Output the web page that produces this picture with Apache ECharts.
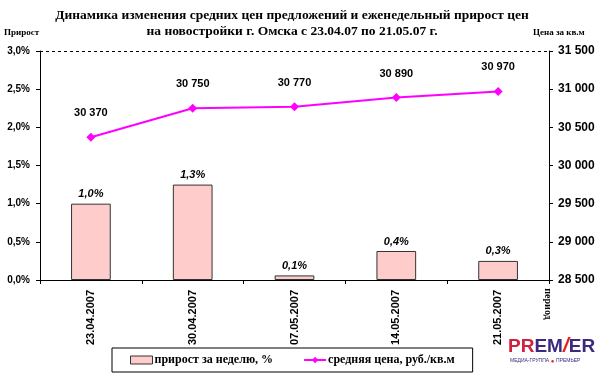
<!DOCTYPE html>
<html><head><meta charset="utf-8">
<script src="https://cdn.jsdelivr.net/npm/echarts@6/dist/echarts.min.js"></script>
<style>html,body{margin:0;padding:0;background:#fff}#c{width:600px;height:373px}</style>
</head><body><div id="c"></div>
<script>
const categories = ['23.04.2007','30.04.2007','07.05.2007','14.05.2007','21.05.2007'];
const growthPct = [1.0, 1.25, 0.06, 0.38, 0.25];
const avgPrice = [30370, 30750, 30770, 30890, 30970];
const titleLines = ['Динамика изменения средних цен предложений и еженедельный прирост цен','на новостройки г. Омска с 23.04.07 по 21.05.07 г.'];
const seriesNames = ['прирост за неделю, %','средняя цена, руб./кв.м'];
const xAxisName = 'период';

const chart = echarts.init(document.getElementById('c'), null, {renderer:'canvas'});
const numFont = {fontFamily:'Liberation Sans', fontWeight:'bold', fontSize:10, color:'#000'};
const fmtPct = v => v.toFixed(1).replace('.', ',') + '%';
const fmtNum = v => String(v).replace(/\B(?=(\d{3})+(?!\d))/g, ' ');

chart.setOption({
  animation:false,
  backgroundColor:'#fff',
  title:{
    text: titleLines.join('\n'),
    left: 287, top: 3, textAlign:'center',
    textStyle:{fontFamily:'Liberation Serif', fontWeight:'bold', fontSize:13.5, color:'#000', lineHeight:16}
  },
  grid:{left:40, right:51, top:51, bottom:93, containLabel:false},
  legend:{
    left:112, top:348, width:366, height:24,
    itemGap:30, itemWidth:22, itemHeight:8,
    padding:[6,18,6,18],
    borderColor:'#000', borderWidth:1,
    textStyle:{fontFamily:'Liberation Serif', fontWeight:'bold', fontSize:12, color:'#000', padding:[0,0,0,-3]},
    data:[
      {name:seriesNames[0], icon:'rect', itemStyle:{color:'#FFCCCC', borderColor:'#333', borderWidth:1}},
      {name:seriesNames[1]}
    ]
  },
  xAxis:{
    type:'category', data:categories,
    axisLine:{lineStyle:{color:'#000', width:1}},
    axisTick:{show:true, length:4, lineStyle:{color:'#000'}},
    axisLabel:{rotate:90, margin:10, ...numFont, fontSize:11}
  },
  yAxis:[
    {type:'value', min:0, max:3, interval:0.5,
     axisLine:{show:true, lineStyle:{color:'#000'}},
     axisTick:{show:true, length:4, lineStyle:{color:'#000'}},
     splitLine:{show:false},
     axisLabel:{...numFont, margin:10, formatter:fmtPct},
     name:'Прирост', nameLocation:'end', nameGap:14,
     nameTextStyle:{fontFamily:'Liberation Serif', fontWeight:'bold', fontSize:9, color:'#000', align:'left', padding:[0,0,0,-36]}
    },
    {type:'value', min:28500, max:31500, interval:500, position:'right',
     axisLine:{show:true, lineStyle:{color:'#000'}},
     axisTick:{show:true, length:4, lineStyle:{color:'#000'}},
     splitLine:{show:false},
     axisLabel:{...numFont, fontSize:12, margin:9, formatter:fmtNum},
     name:'Цена за кв.м', nameLocation:'end', nameGap:14,
     nameTextStyle:{fontFamily:'Liberation Serif', fontWeight:'bold', fontSize:9, color:'#000', align:'left', padding:[0,0,0,-16]}
    }
  ],
  series:[
    {name:seriesNames[0], type:'bar', data:growthPct, yAxisIndex:0, barWidth:'39%',
     itemStyle:{color:'#FFCCCC', borderColor:'#333', borderWidth:1},
     label:{show:true, position:'top', distance:4, fontFamily:'Liberation Sans', fontWeight:'bold', fontStyle:'italic', fontSize:11, color:'#000',
       formatter:p => fmtPct(Math.round(p.value*10)/10)},
     markLine:{silent:true, symbol:'none', label:{show:false},
       lineStyle:{color:'#000', type:[3,3], width:1}, data:[{yAxis:3}]}
    },
    {name:seriesNames[1], type:'line', data:avgPrice, yAxisIndex:1,
     symbol:'diamond', symbolSize:9,
     lineStyle:{color:'#FF00FF', width:2}, itemStyle:{color:'#FF00FF'},
     label:{show:true, position:'top', distance:14, ...numFont, fontSize:11, formatter:p => fmtNum(p.value)}
    }
  ],
  graphic:[
    {type:'text', x:548, y:304, rotation:-Math.PI/2, style:{
      text:xAxisName, align:'center', verticalAlign:'middle',
      fill:'#000', fontFamily:'Liberation Serif', fontWeight:'bold', fontSize:10}},
    {type:'text', left:508, top:336, style:{
      text:'{a|PR}{b|EM}{c|/}{b|ER}',
      rich:{
        a:{fill:'#D0213F', fontFamily:'Liberation Sans', fontWeight:'bold', fontSize:19},
        b:{fill:'#3B2A7E', fontFamily:'Liberation Sans', fontWeight:'bold', fontSize:19},
        c:{fill:'#E2231A', fontFamily:'Liberation Sans', fontWeight:'bold', fontSize:21, fontStyle:'italic'}
      }}},
    {type:'text', left:510, top:358, style:{
      text:'{b|МЕДИА-ГРУППА}{c| ● }{b|ПРЕМЬЕР}',
      rich:{
        b:{fill:'#3B2A7E', fontFamily:'Liberation Sans', fontSize:5},
        c:{fill:'#E2231A', fontFamily:'Liberation Sans', fontSize:6}
      }}}
  ]
});
</script></body></html>
